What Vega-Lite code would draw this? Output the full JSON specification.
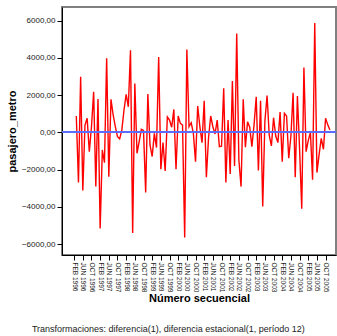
{
  "$schema": "https://vega.github.io/schema/vega-lite/v6.json",
  "autosize": {"type": "none"},
  "width": 274,
  "height": 248,
  "padding": {"left": 62, "top": 7, "right": 1, "bottom": 81},
  "background": "white",
  "config": {
    "font": "Liberation Sans",
    "view": {"stroke": "#808080", "strokeWidth": 2},
    "axis": {"grid": false, "domainColor": "#000000", "tickColor": "#000000", "labelColor": "#222222", "titleColor": "#000000", "labelFont": "Liberation Sans", "titleFont": "Liberation Sans"}
  },
  "title": {
    "text": "Transformaciones: diferencia(1), diferencia estacional(1, período 12)",
    "orient": "bottom",
    "anchor": "middle",
    "frame": "bounds",
    "fontSize": 9,
    "fontWeight": "normal",
    "color": "#222222",
    "offset": 22,
    "dx": -3
  },
  "data": {
    "values": [
      {"t": 1, "v": 875}, {"t": 2, "v": -2700}, {"t": 3, "v": 2980}, {"t": 4, "v": -3130},
      {"t": 5, "v": 390}, {"t": 6, "v": 750}, {"t": 7, "v": -1040}, {"t": 8, "v": 300},
      {"t": 9, "v": 2180}, {"t": 10, "v": -2910}, {"t": 11, "v": 1785}, {"t": 12, "v": -5170},
      {"t": 13, "v": -950}, {"t": 14, "v": -1630}, {"t": 15, "v": 3970}, {"t": 16, "v": -2380},
      {"t": 17, "v": 1770}, {"t": 18, "v": 930}, {"t": 19, "v": 300}, {"t": 20, "v": -235},
      {"t": 21, "v": -350}, {"t": 22, "v": 120}, {"t": 23, "v": 1200}, {"t": 24, "v": 2035},
      {"t": 25, "v": 1370}, {"t": 26, "v": 4410}, {"t": 27, "v": -5410}, {"t": 28, "v": 2625},
      {"t": 29, "v": -1125}, {"t": 30, "v": -500}, {"t": 31, "v": 160}, {"t": 32, "v": 100},
      {"t": 33, "v": -3235}, {"t": 34, "v": 2050}, {"t": 35, "v": -680}, {"t": 36, "v": -1300},
      {"t": 37, "v": -55}, {"t": 38, "v": -820}, {"t": 39, "v": 4050}, {"t": 40, "v": -1985},
      {"t": 41, "v": -555}, {"t": 42, "v": -2075}, {"t": 43, "v": 830}, {"t": 44, "v": 660},
      {"t": 45, "v": 270}, {"t": 46, "v": 1230}, {"t": 47, "v": -1985}, {"t": 48, "v": 875},
      {"t": 49, "v": 480}, {"t": 50, "v": 390}, {"t": 51, "v": -5650}, {"t": 52, "v": 4450},
      {"t": 53, "v": 300}, {"t": 54, "v": 515}, {"t": 55, "v": -55}, {"t": 56, "v": -1575},
      {"t": 57, "v": 1410}, {"t": 58, "v": 300}, {"t": 59, "v": -555}, {"t": 60, "v": 1695},
      {"t": 61, "v": -2410}, {"t": 62, "v": -300}, {"t": 63, "v": 875}, {"t": 64, "v": 300},
      {"t": 65, "v": -90}, {"t": 66, "v": 660}, {"t": 67, "v": -770}, {"t": 68, "v": -750},
      {"t": 69, "v": 2360}, {"t": 70, "v": -2700}, {"t": 71, "v": 660}, {"t": 72, "v": -2235},
      {"t": 73, "v": 2750}, {"t": 74, "v": -1805}, {"t": 75, "v": 5300}, {"t": 76, "v": -1500},
      {"t": 77, "v": -2915}, {"t": 78, "v": 1770}, {"t": 79, "v": -800}, {"t": 80, "v": 570},
      {"t": 81, "v": 270}, {"t": 82, "v": -770}, {"t": 83, "v": 400}, {"t": 84, "v": 1910},
      {"t": 85, "v": -2055}, {"t": 86, "v": 1695}, {"t": 87, "v": -3985}, {"t": 88, "v": 600},
      {"t": 89, "v": 1980}, {"t": 90, "v": -150}, {"t": 91, "v": -735}, {"t": 92, "v": 785},
      {"t": 93, "v": -200}, {"t": 94, "v": -555}, {"t": 95, "v": 1090}, {"t": 96, "v": -1575},
      {"t": 97, "v": 1020}, {"t": 98, "v": 875}, {"t": 99, "v": -1395}, {"t": 100, "v": -200},
      {"t": 101, "v": 2125}, {"t": 102, "v": -2410}, {"t": 103, "v": 1945}, {"t": 104, "v": -900},
      {"t": 105, "v": -4110}, {"t": 106, "v": 3480}, {"t": 107, "v": -1040}, {"t": 108, "v": -450},
      {"t": 109, "v": 0}, {"t": 110, "v": -2550}, {"t": 111, "v": 5875}, {"t": 112, "v": -2165},
      {"t": 113, "v": -1200}, {"t": 114, "v": -320}, {"t": 115, "v": -910}, {"t": 116, "v": 750},
      {"t": 117, "v": 400}, {"t": 118, "v": 120}
    ]
  },
  "layer": [
    {
      "mark": {"type": "line", "color": "#ff0000", "strokeWidth": 1.4},
      "encoding": {
        "x": {
          "field": "t", "type": "quantitative",
          "scale": {"domain": [-5.6, 120.8], "nice": false, "zero": false},
          "axis": {
            "values": [0,4,8,12,16,20,24,28,32,36,40,44,48,52,56,60,64,68,72,76,80,84,88,92,96,100,104,108,112,116],
            "labelExpr": "['JAN','FEB','MAR','APR','MAY','JUN','JUL','AUG','SEP','OCT','NOV','DEC'][(datum.value+1)%12] + ' ' + (1996 + floor((datum.value+1)/12))",
            "labelAngle": 90,
            "labelFontSize": 6.5,
            "labelPadding": 2,
            "labelOverlap": false,
            "labelFlush": false,
            "tickSize": 5,
            "title": "Número secuencial",
            "titleFontSize": 11,
            "titleFontWeight": "bold",
            "titleY": 37,
            "titleBaseline": "top"
          }
        },
        "y": {
          "field": "v", "type": "quantitative",
          "scale": {"domain": [-6590, 6730], "nice": false, "zero": false},
          "axis": {
            "values": [-6000, -4000, -2000, 0, 2000, 4000, 6000],
            "labelExpr": "replace(format(datum.value, '.2f'), '.', ',')",
            "labelFontSize": 8,
            "tickSize": 5,
            "labelPadding": 2,
            "title": "pasajero_metro",
            "titleFontSize": 11,
            "titleFontWeight": "bold",
            "titleX": -45
          }
        }
      }
    },
    {
      "mark": {"type": "rule", "color": "#5b6bff", "strokeWidth": 1.3},
      "encoding": {"y": {"datum": 0}}
    }
  ]
}
